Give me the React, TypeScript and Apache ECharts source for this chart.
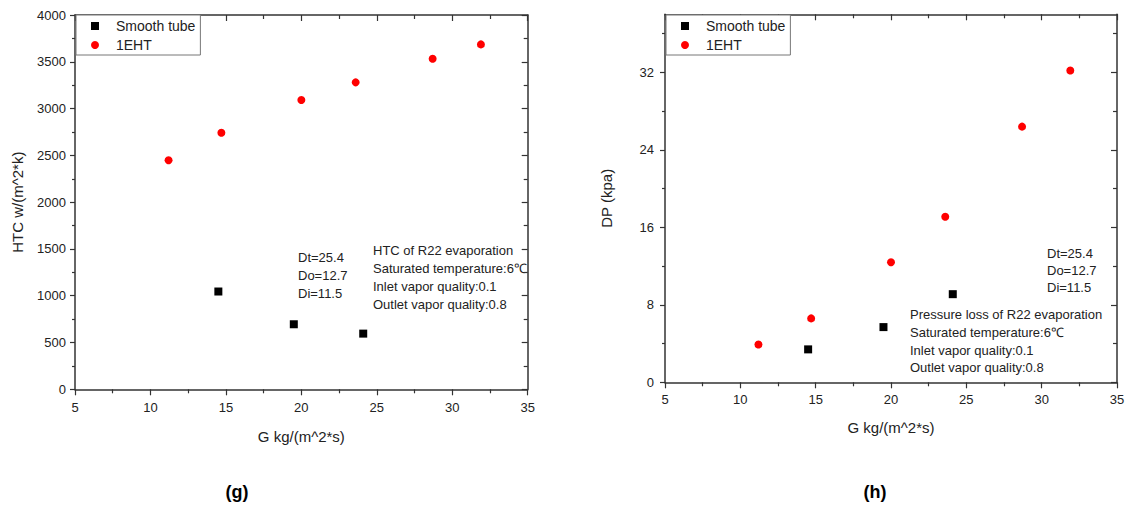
import React, { useEffect, useRef } from "react";
import * as echarts from "echarts";

// ---- data ----
const gSmooth = [14.5, 19.5, 24.1];
const htcSmooth = [1045, 695, 595];
const gEHT = [11.2, 14.7, 20.0, 23.6, 28.7, 31.9];
const htcEHT = [2447, 2742, 3091, 3280, 3533, 3686];
const dpSmooth = [3.4, 5.7, 9.1];
const dpEHT = [3.9, 6.6, 12.4, 17.1, 26.4, 32.2];

const dpMajorTicks = [0, 8, 16, 24, 32];
const dpMinorTicks = [4, 12, 20, 28, 36];

const seriesNames = ["Smooth tube", "1EHT"];
const xName = "G kg/(m^2*s)";
const yNameHTC = "HTC w/(m^2*k)";
const yNameDP = "DP (kpa)";
const noteDims = "Dt=25.4\nDo=12.7\nDi=11.5";
const noteHTC = "HTC of R22 evaporation\nSaturated temperature:6\u2103\nInlet vapor quality:0.1\nOutlet vapor quality:0.8";
const noteDP = "Pressure loss of R22 evaporation\nSaturated temperature:6\u2103\nInlet vapor quality:0.1\nOutlet vapor quality:0.8";

const FONT = "'Liberation Sans', Arial, sans-serif";
const AX = "#333";
const TXT = "#222";

const zip = (a: number[], b: number[]) => a.map((v, i) => [v, b[i]]);
const plain = (v: number) => String(v);

function App() {
  const ref = useRef<HTMLDivElement>(null);
  useEffect(() => {
    if (!ref.current) return;
    const chart = echarts.init(ref.current, undefined, { renderer: "svg" });

    const axisLine = { show: true, onZero: false, lineStyle: { color: AX, width: 1.5 } };
    const lbl = { color: TXT, fontSize: 13, fontFamily: FONT, formatter: plain };
    const nameStyle = { color: TXT, fontSize: 15, fontFamily: FONT };
    const tickStyle = { color: AX, width: 1.2 };

    const xMain = (grid: number, gap: number, margin: number) => ({
      type: "value", gridIndex: grid, position: "bottom", min: 5, max: 35, interval: 5,
      axisLine, splitLine: { show: false },
      axisTick: { show: true, inside: false, length: 6, lineStyle: tickStyle },
      minorTick: { show: true, splitNumber: 2, length: 4, lineStyle: tickStyle },
      minorSplitLine: { show: false },
      axisLabel: { ...lbl, margin },
      name: xName, nameLocation: "middle", nameGap: gap, nameTextStyle: nameStyle,
    });
    const xTop = (grid: number) => ({
      type: "value", gridIndex: grid, position: "top", min: 5, max: 35, interval: 5,
      axisLine, splitLine: { show: false },
      axisTick: { show: true, inside: true, length: 6, lineStyle: tickStyle },
      minorTick: { show: true, splitNumber: 2, length: 4, lineStyle: tickStyle },
      axisLabel: { show: false },
    });

    const legendBase = {
      orient: "vertical", top: 15, itemWidth: 8, itemHeight: 8, itemGap: 3,
      padding: [3, 5, 2, 15], borderColor: "#777", borderWidth: 1, backgroundColor: "#fff",
      selectedMode: false,
      textStyle: { fontSize: 14, color: TXT, fontFamily: FONT, padding: [0, 0, 0, 12], lineHeight: 16 },
      data: [{ name: seriesNames[0], icon: "rect" }, { name: seriesNames[1], icon: "circle" }],
    };

    const option: any = {
      animation: false,
      backgroundColor: "#fff",
      textStyle: { fontFamily: FONT },
      grid: [
        { left: 75, top: 15, right: 600.3, bottom: 121.7, containLabel: false },
        { left: 665, top: 14.3, right: 11, bottom: 128.7, containLabel: false },
      ],
      legend: [
        { ...legendBase, left: 76 },
        { ...legendBase, left: 666 },
      ],
      xAxis: [xMain(0, 40, 12), xTop(0), xMain(1, 38, 11), xTop(1)],
      yAxis: [
        {
          type: "value", gridIndex: 0, position: "left", min: 0, max: 4000, interval: 500,
          axisLine, splitLine: { show: false },
          axisTick: { show: true, inside: false, length: 5, lineStyle: tickStyle },
          minorTick: { show: true, splitNumber: 2, length: 3, lineStyle: tickStyle },
          axisLabel: { ...lbl, margin: 9 },
          name: yNameHTC, nameLocation: "middle", nameGap: 50, nameTextStyle: nameStyle,
        },
        {
          type: "value", gridIndex: 0, position: "right", min: 0, max: 4000, interval: 500,
          axisLine, splitLine: { show: false },
          axisTick: { show: true, inside: true, length: 6, lineStyle: tickStyle },
          minorTick: { show: true, splitNumber: 2, length: 4, lineStyle: tickStyle },
          axisLabel: { show: false },
        },
        {
          type: "value", gridIndex: 1, position: "left", min: 0, max: 38, interval: 8,
          axisLine, splitLine: { show: false },
          axisTick: { show: true, inside: false, length: 5, customValues: dpMajorTicks, lineStyle: tickStyle },
          axisLabel: { ...lbl, margin: 11, customValues: dpMajorTicks },
          name: yNameDP, nameLocation: "middle", nameGap: 51, nameTextStyle: nameStyle,
        },
        {
          type: "value", gridIndex: 1, position: "left", min: 0, max: 38, interval: 8,
          axisLine: { show: false }, splitLine: { show: false },
          axisTick: { show: true, inside: false, length: 3, customValues: dpMinorTicks, lineStyle: tickStyle },
          axisLabel: { show: false },
        },
        {
          type: "value", gridIndex: 1, position: "right", min: 0, max: 38, interval: 8,
          axisLine, splitLine: { show: false },
          axisTick: { show: true, inside: true, length: 6, customValues: dpMajorTicks, lineStyle: tickStyle },
          axisLabel: { show: false },
        },
        {
          type: "value", gridIndex: 1, position: "right", min: 0, max: 38, interval: 8,
          axisLine: { show: false }, splitLine: { show: false },
          axisTick: { show: true, inside: true, length: 4, customValues: dpMinorTicks, lineStyle: tickStyle },
          axisLabel: { show: false },
        },
      ],
      series: [
        { name: seriesNames[0], type: "scatter", xAxisIndex: 0, yAxisIndex: 0, symbol: "rect", symbolSize: 8,
          itemStyle: { color: "#000", opacity: 1 }, data: zip(gSmooth, htcSmooth) },
        { name: seriesNames[1], type: "scatter", xAxisIndex: 0, yAxisIndex: 0, symbol: "circle", symbolSize: 8,
          itemStyle: { color: "#ff0000", opacity: 1 }, data: zip(gEHT, htcEHT) },
        { name: seriesNames[0], type: "scatter", xAxisIndex: 2, yAxisIndex: 2, symbol: "rect", symbolSize: 8,
          itemStyle: { color: "#000", opacity: 1 }, data: zip(gSmooth, dpSmooth) },
        { name: seriesNames[1], type: "scatter", xAxisIndex: 2, yAxisIndex: 2, symbol: "circle", symbolSize: 8,
          itemStyle: { color: "#ff0000", opacity: 1 }, data: zip(gEHT, dpEHT) },
      ],
      graphic: [
        { type: "text", left: 298, top: 248, style: { text: noteDims, fontSize: 13, fontFamily: FONT, lineHeight: 18, fill: TXT } },
        { type: "text", left: 373, top: 241, style: { text: noteHTC, fontSize: 13, fontFamily: FONT, lineHeight: 18, fill: TXT } },
        { type: "text", left: 1047, top: 245, style: { text: noteDims, fontSize: 13, fontFamily: FONT, lineHeight: 17, fill: TXT } },
        { type: "text", left: 910, top: 306, style: { text: noteDP, fontSize: 13, fontFamily: FONT, lineHeight: 17.7, fill: TXT } },
        { type: "text", x: 237, y: 492, style: { text: "(g)", fontSize: 18, fontWeight: "bold", fontFamily: FONT, fill: "#000", align: "center", verticalAlign: "middle" } },
        { type: "text", x: 875, y: 492, style: { text: "(h)", fontSize: 18, fontWeight: "bold", fontFamily: FONT, fill: "#000", align: "center", verticalAlign: "middle" } },
      ],
    };
    chart.setOption(option);
    return () => chart.dispose();
  }, []);
  return (
    <div
      ref={ref}
      style={{ position: "absolute", left: 0, top: 0, width: 1128, height: 511, background: "#fff" }}
    />
  );
}

export default App;
